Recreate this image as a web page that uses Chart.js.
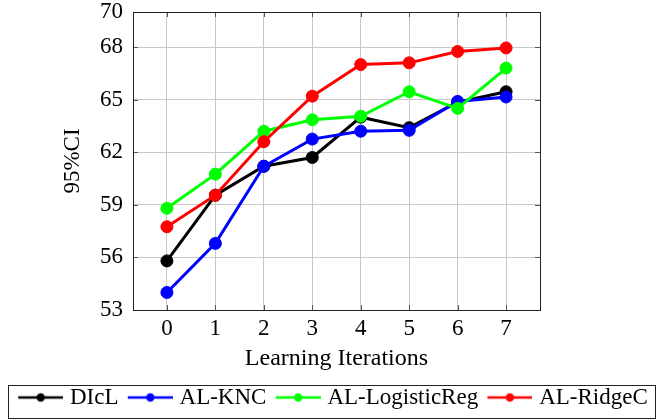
<!DOCTYPE html>
<html>
<head>
<meta charset="utf-8">
<script src="https://cdn.jsdelivr.net/npm/chart.js@4.4.1/dist/chart.umd.min.js"></script>
<style>
  html, body { margin: 0; padding: 0; background: #fff; }
  #wrap { width: 661px; height: 419px; position: relative; }
</style>
</head>
<body>
<div id="wrap"><canvas id="c" width="661" height="419"></canvas></div>
<script>
// ---- Data ----
const iterations = [0, 1, 2, 3, 4, 5, 6, 7];
const xTicks = [0, 1, 2, 3, 4, 5, 6, 7];
const yTicks = [53, 56, 59, 62, 65, 68, 70];
const seriesNames = ['DIcL', 'AL-KNC', 'AL-LogisticReg', 'AL-RidgeC'];
const dicl       = [55.8, 59.55, 61.2, 61.7, 64.0, 63.4, 64.85, 65.45];
const alKnc      = [54.0, 56.8, 61.2, 62.75, 63.2, 63.25, 64.9, 65.15];
const alLogistic = [58.8, 60.75, 63.2, 63.85, 64.05, 65.45, 64.5, 66.8];
const alRidge    = [57.75, 59.55, 62.6, 65.2, 67.0, 67.1, 67.75, 67.95];
const seriesColors = ['#000000', '#0000ff', '#00ff00', '#ff0000'];

const FONT = "'Liberation Serif', 'Times New Roman', serif";
const allSeries = [dicl, alKnc, alLogistic, alRidge];

function legendImage(color) {
  const c = document.createElement('canvas');
  c.width = 50; c.height = 12;
  const g = c.getContext('2d');
  g.strokeStyle = color; g.lineWidth = 2.6;
  g.beginPath(); g.moveTo(5, 6); g.lineTo(50, 6); g.stroke();
  g.fillStyle = color;
  g.beginPath(); g.arc(27.5, 6, 4.2, 0, Math.PI * 2); g.fill();
  return c;
}
const legendImgs = seriesColors.map(legendImage);

const datasets = allSeries.map((vals, i) => ({
  label: seriesNames[i],
  data: iterations.map((x, j) => ({ x: x, y: vals[j] })),
  borderColor: seriesColors[i],
  backgroundColor: seriesColors[i],
  pointBackgroundColor: seriesColors[i],
  pointBorderColor: seriesColors[i],
  borderWidth: 3,
  pointRadius: 6,
  pointBorderWidth: 1,
  tension: 0,
  order: allSeries.length - i
}));

const framePlugin = {
  id: 'frame',
  beforeDatasetsDraw(chart) {
    const { ctx, chartArea: a, scales } = chart;
    const x = scales.x, y = scales.y;
    ctx.save();
    ctx.strokeStyle = '#555';
    ctx.lineWidth = 1;
    ctx.beginPath();
    xTicks.forEach(v => {
      const px = Math.round(x.getPixelForValue(v)) + 0.5;
      ctx.moveTo(px, a.bottom); ctx.lineTo(px, a.bottom - 5);
      ctx.moveTo(px, a.top); ctx.lineTo(px, a.top + 5);
    });
    yTicks.forEach(v => {
      const py = Math.round(y.getPixelForValue(v)) + 0.5;
      ctx.moveTo(a.left, py); ctx.lineTo(a.left + 5, py);
      ctx.moveTo(a.right, py); ctx.lineTo(a.right - 5, py);
    });
    ctx.stroke();
    ctx.strokeStyle = '#222';
    ctx.strokeRect(Math.round(a.left) + 0.5, Math.round(a.top) + 0.5,
                   Math.round(a.right - a.left), Math.round(a.bottom - a.top));
    ctx.restore();
  },
  afterDraw(chart) {
    const lg = chart.legend;
    if (!lg || !lg.legendHitBoxes || !lg.legendHitBoxes.length) return;
    const hb = lg.legendHitBoxes;
    const last = hb[hb.length - 1];
    const left = Math.round(hb[0].left - 10) + 0.5;
    const right = Math.round(last.left + last.width + 7) + 0.5;
    const top = Math.round(hb[0].top - 1) + 0.5;
    const bottom = 418.5;
    const ctx = chart.ctx;
    ctx.save();
    ctx.strokeStyle = '#222';
    ctx.lineWidth = 1;
    ctx.strokeRect(left, top, right - left, bottom - top);
    ctx.restore();
  }
};

new Chart(document.getElementById('c'), {
  type: 'line',
  data: { datasets },
  plugins: [framePlugin],
  options: {
    responsive: false,
    animation: false,
    layout: { padding: { left: 9, right: 0, top: 12, bottom: 0 } },
    plugins: {
      tooltip: { enabled: false },
      legend: {
        position: 'bottom',
        align: 'start',
        labels: {
          usePointStyle: true,
          pointStyleWidth: 40.5,
          boxHeight: 12,
          padding: 9,
          color: '#000',
          font: { family: FONT, size: 23 },
          generateLabels(chart) {
            const items = Chart.defaults.plugins.legend.labels.generateLabels(chart);
            items.forEach(it => { it.pointStyle = legendImgs[it.datasetIndex]; });
            return items;
          },
          sort: (a, b) => a.datasetIndex - b.datasetIndex
        }
      }
    },
    scales: {
      x: {
        type: 'linear',
        min: -0.7,
        max: 7.7,
        afterBuildTicks(s) { s.ticks = xTicks.map(v => ({ value: v })); },
        afterFit(s) { s.height = 67; },
        grid: { color: '#c8c8c8', drawTicks: false },
        border: { display: false },
        ticks: {
          color: '#000', padding: 7,
          font: { family: FONT, size: 23, lineHeight: 1 },
          maxRotation: 0, autoSkip: false
        },
        title: {
          display: true, text: 'Learning Iterations', color: '#000',
          font: { family: FONT, size: 24, lineHeight: 1.2 },
          padding: { top: 4, bottom: 4 }
        }
      },
      y: {
        type: 'linear',
        min: 53,
        max: 70,
        afterBuildTicks(s) { s.ticks = yTicks.map(v => ({ value: v })); },
        afterFit(s) { s.width = 124; s.paddingTop = 0; s.paddingBottom = 0; },
        grid: { color: '#c8c8c8', drawTicks: false },
        border: { display: false },
        ticks: {
          color: '#000', padding: 10,
          font: { family: FONT, size: 23, lineHeight: 1 },
          autoSkip: false
        },
        title: {
          display: true, text: '95%CI', color: '#000',
          font: { family: FONT, size: 23, lineHeight: 1.2 },
          padding: { top: 50, bottom: 10 }
        }
      },
      yRight: {
        position: 'right',
        display: true,
        min: 0, max: 1,
        grid: { display: false, drawTicks: false },
        border: { display: false },
        ticks: { display: false },
        afterFit(s) { s.width = 121; s.paddingTop = 0; s.paddingBottom = 0; }
      }
    }
  }
});
</script>
</body>
</html>
